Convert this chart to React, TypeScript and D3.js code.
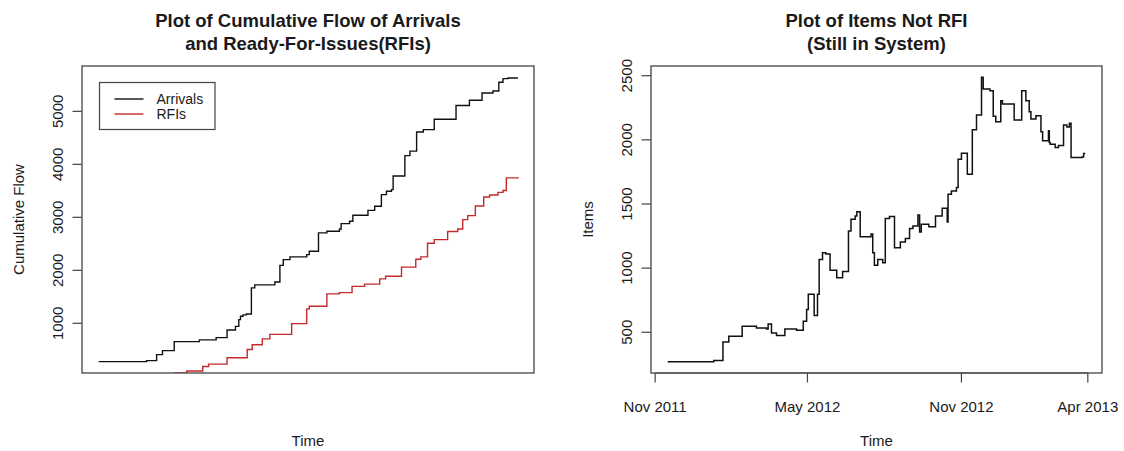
import React from "react";
import * as d3 from "d3";

// ---- Data ----
const arrivalDates = [
  "2011-11-16","2012-01-12","2012-01-24","2012-01-31","2012-02-14","2012-03-15","2012-04-04","2012-04-17",
  "2012-04-27","2012-05-01","2012-05-03","2012-05-06","2012-05-10","2012-05-16","2012-05-20","2012-06-13",
  "2012-06-19","2012-06-23","2012-07-01","2012-07-21","2012-07-24","2012-08-04","2012-08-14","2012-08-29",
  "2012-08-31","2012-09-10","2012-09-14","2012-10-02","2012-10-10","2012-10-18","2012-10-24","2012-10-30",
  "2012-11-01","2012-11-15","2012-11-21","2012-11-29","2012-12-07","2012-12-20","2013-01-15","2013-01-31",
  "2013-02-15","2013-02-28","2013-03-07","2013-03-12","2013-03-18","2013-03-29"
];
const arrivalValues = [
  277,296,409,485,655,687,730,875,
  943,1070,1132,1160,1177,1668,1725,1781,
  2094,2202,2253,2296,2359,2706,2736,2781,
  2881,2925,3038,3132,3208,3428,3491,3523,
  3780,4164,4250,4610,4655,4850,5110,5210,
  5345,5385,5550,5618,5630,5641
];

const rfiDates = [
  "2012-02-14","2012-02-29","2012-03-19","2012-03-26","2012-04-17","2012-05-11","2012-05-17","2012-05-29",
  "2012-06-07","2012-07-03","2012-07-21","2012-07-24","2012-08-14","2012-08-29","2012-09-13","2012-09-28",
  "2012-10-16","2012-10-23","2012-11-11","2012-11-28","2012-12-04","2012-12-12","2012-12-20","2013-01-05",
  "2013-01-17","2013-01-23","2013-01-29","2013-02-07","2013-02-17","2013-02-24","2013-03-06","2013-03-12",
  "2013-03-16","2013-03-31"
];
const rfiValues = [
  62,100,185,230,350,505,595,706,
  792,994,1272,1321,1555,1580,1698,1740,
  1838,1887,2060,2210,2253,2512,2579,2733,
  2781,2957,3032,3215,3385,3420,3470,3505,
  3744,3744
];

const itemDates = [
  "2011-11-16","2012-01-10","2012-01-21","2012-01-28","2012-02-13","2012-03-01","2012-03-13","2012-03-15",
  "2012-03-19","2012-03-25","2012-04-04","2012-04-18","2012-04-26","2012-04-30","2012-05-02","2012-05-09",
  "2012-05-13","2012-05-15","2012-05-19","2012-05-23","2012-05-28","2012-06-05","2012-06-12","2012-06-19",
  "2012-06-22","2012-06-27","2012-06-29","2012-07-03","2012-07-16","2012-07-18","2012-07-20","2012-07-24",
  "2012-07-30","2012-08-02","2012-08-07","2012-08-13","2012-08-20","2012-08-26","2012-08-31","2012-09-04",
  "2012-09-10","2012-09-12","2012-09-14","2012-09-23","2012-10-01","2012-10-09","2012-10-15","2012-10-16",
  "2012-10-20","2012-10-26","2012-10-28","2012-11-01","2012-11-08","2012-11-14","2012-11-19","2012-11-25",
  "2012-11-27","2012-12-05","2012-12-09","2012-12-12","2012-12-18","2012-12-20","2013-01-03","2013-01-12",
  "2013-01-17","2013-01-21","2013-01-23","2013-01-29","2013-02-04","2013-02-06","2013-02-13","2013-02-14",
  "2013-02-15","2013-02-21","2013-02-25","2013-03-03","2013-03-07","2013-03-10","2013-03-12","2013-03-25",
  "2013-03-27","2013-03-29"
];
const itemValues = [
  271,279,425,469,547,534,525,565,
  495,474,526,516,586,677,797,630,
  797,1068,1120,1110,984,925,974,1289,
  1380,1406,1440,1245,1266,1120,1023,1068,
  1042,1386,1402,1159,1203,1230,1308,1328,
  1414,1281,1341,1323,1406,1466,1359,1576,
  1602,1628,1849,1896,1732,2078,2193,2487,
  2396,2383,2183,2141,2305,2279,2154,2383,
  2305,2219,2162,2188,2063,1992,2070,1980,
  1966,1940,1955,2115,2100,2130,1862,1867,
  1894,1894
];

const leftYTicks = [1000, 2000, 3000, 4000, 5000];
const rightYTicks = [500, 1000, 1500, 2000, 2500];
const rightXTickDates = ["2011-11-01", "2012-05-01", "2012-11-01", "2013-04-01"];
const rightXTickLabels = ["Nov 2011", "May 2012", "Nov 2012", "Apr 2013"];
const legendLabels = ["Arrivals", "RFIs"];

// ---- Helpers ----
const parse = d3.timeParse("%Y-%m-%d");
type Pt = { d: Date; v: number };
const zip = (ds: string[], vs: number[]): Pt[] => ds.map((s, i) => ({ d: parse(s) as Date, v: vs[i] }));
const pad4 = (lo: number, hi: number): [number, number] => {
  const r = (hi - lo) * 0.04;
  return [lo - r, hi + r];
};

const arrivals = zip(arrivalDates, arrivalValues);
const rfis = zip(rfiDates, rfiValues);
const items = zip(itemDates, itemValues);

const FONT = "'Liberation Sans', Arial, sans-serif";
const TXT = "#1a1a1a";
const BOX = "#444";
const RED = "#c42a2a";

const top = 66, bottom = 373;
const L = { left: 82, right: 534 };
const R = { left: 651, right: 1102 };

function Panel(props: {
  box: { left: number; right: number };
  x: d3.ScaleTime<number, number>;
  y: d3.ScaleLinear<number, number>;
  yTicks: number[];
  title: string[];
  yLabel: string;
  id: string;
  children?: React.ReactNode;
  xTicks?: { d: Date; label: string }[];
}) {
  const { box, y, yTicks, title, yLabel, id, x, xTicks } = props;
  const cx = (box.left + box.right) / 2;
  const cy = (top + bottom) / 2;
  return (
    <g>
      <defs>
        <clipPath id={id}>
          <rect x={box.left} y={top} width={box.right - box.left} height={bottom - top} />
        </clipPath>
      </defs>
      {title.map((t, i) => (
        <text key={i} x={cx} y={27 + i * 22.5} textAnchor="middle" fontFamily={FONT} fontWeight="bold" fontSize={18.5} fill={TXT}>
          {t}
        </text>
      ))}
      <g clipPath={`url(#${id})`}>{props.children}</g>
      <rect x={box.left} y={top} width={box.right - box.left} height={bottom - top} fill="none" stroke={BOX} strokeWidth={1.3} />
      {yTicks.map((t) => (
        <g key={t}>
          <line x1={box.left - 9.5} x2={box.left} y1={y(t)} y2={y(t)} stroke={BOX} strokeWidth={1.2} />
          <text transform={`translate(${box.left - 19.5},${y(t)}) rotate(-90)`} textAnchor="middle" fontFamily={FONT} fontSize={15} fill={TXT}>
            {t}
          </text>
        </g>
      ))}
      {xTicks && (
        <g>
          <line x1={x(xTicks[0].d)} x2={x(xTicks[xTicks.length - 1].d)} y1={bottom} y2={bottom} stroke={BOX} strokeWidth={1.2} />
          {xTicks.map((t) => (
            <g key={t.label}>
              <line x1={x(t.d)} x2={x(t.d)} y1={bottom} y2={bottom + 9.5} stroke={BOX} strokeWidth={1.2} />
              <text x={x(t.d)} y={412} textAnchor="middle" fontFamily={FONT} fontSize={15} fill={TXT}>
                {t.label}
              </text>
            </g>
          ))}
        </g>
      )}
      <text x={cx} y={446} textAnchor="middle" fontFamily={FONT} fontSize={15} fill={TXT}>
        Time
      </text>
      <text transform={`translate(${box.left - 58},${cy}) rotate(-90)`} textAnchor="middle" fontFamily={FONT} fontSize={15} fill={TXT}>
        {yLabel}
      </text>
    </g>
  );
}

export default function App() {
  const xExt = d3.extent(arrivals, (p) => p.d) as [Date, Date];
  const xPad = pad4(+xExt[0], +xExt[1]);
  const xDom: [Date, Date] = [new Date(xPad[0]), new Date(xPad[1])];

  const xL = d3.scaleTime().domain(xDom).range([L.left, L.right]);
  const yLExt = d3.extent(arrivals, (p) => p.v) as [number, number];
  const yL = d3.scaleLinear().domain(pad4(yLExt[0], yLExt[1])).range([bottom, top]);

  const iExt = d3.extent(items, (p) => p.d) as [Date, Date];
  const iPad = pad4(+iExt[0], +iExt[1]);
  const xR = d3.scaleTime().domain([new Date(iPad[0]), new Date(iPad[1])]).range([R.left, R.right]);
  const yRExt = d3.extent(items, (p) => p.v) as [number, number];
  const yR = d3.scaleLinear().domain(pad4(yRExt[0], yRExt[1])).range([bottom, top]);

  const lineL = d3.line<Pt>().x((p) => xL(p.d)).y((p) => yL(p.v)).curve(d3.curveStepAfter);
  const lineR = d3.line<Pt>().x((p) => xR(p.d)).y((p) => yR(p.v)).curve(d3.curveStepAfter);

  const xTicksR = rightXTickDates.map((s, i) => ({ d: parse(s) as Date, label: rightXTickLabels[i] }));

  return (
    <svg width={1124} height={451} style={{ position: "absolute", left: 0, top: 0, background: "#fff" }}>
      <rect width={1124} height={451} fill="#fff" />
      <Panel
        box={L}
        x={xL}
        y={yL}
        yTicks={leftYTicks}
        title={["Plot of Cumulative Flow of Arrivals", "and Ready-For-Issues(RFIs)"]}
        yLabel="Cumulative Flow"
        id="clipL"
      >
        <path d={lineL(arrivals) || ""} fill="none" stroke="#111" strokeWidth={1.4} />
        <path d={lineL(rfis) || ""} fill="none" stroke={RED} strokeWidth={1.4} />
      </Panel>
      {/* legend */}
      <g>
        <rect x={99.5} y={82.5} width={115.5} height={47} fill="#fff" stroke={BOX} strokeWidth={1.2} />
        {legendLabels.map((lab, i) => (
          <g key={lab}>
            <line x1={114.5} x2={143.5} y1={99 + i * 15} y2={99 + i * 15} stroke={i === 0 ? "#111" : RED} strokeWidth={1.4} />
            <text x={156.5} y={104 + i * 15} fontFamily={FONT} fontSize={14} fill={TXT}>
              {lab}
            </text>
          </g>
        ))}
      </g>
      <Panel
        box={R}
        x={xR}
        y={yR}
        yTicks={rightYTicks}
        title={["Plot of Items Not RFI", "(Still in System)"]}
        yLabel="Items"
        id="clipR"
        xTicks={xTicksR}
      >
        <path d={lineR(items) || ""} fill="none" stroke="#111" strokeWidth={1.5} />
      </Panel>
    </svg>
  );
}
